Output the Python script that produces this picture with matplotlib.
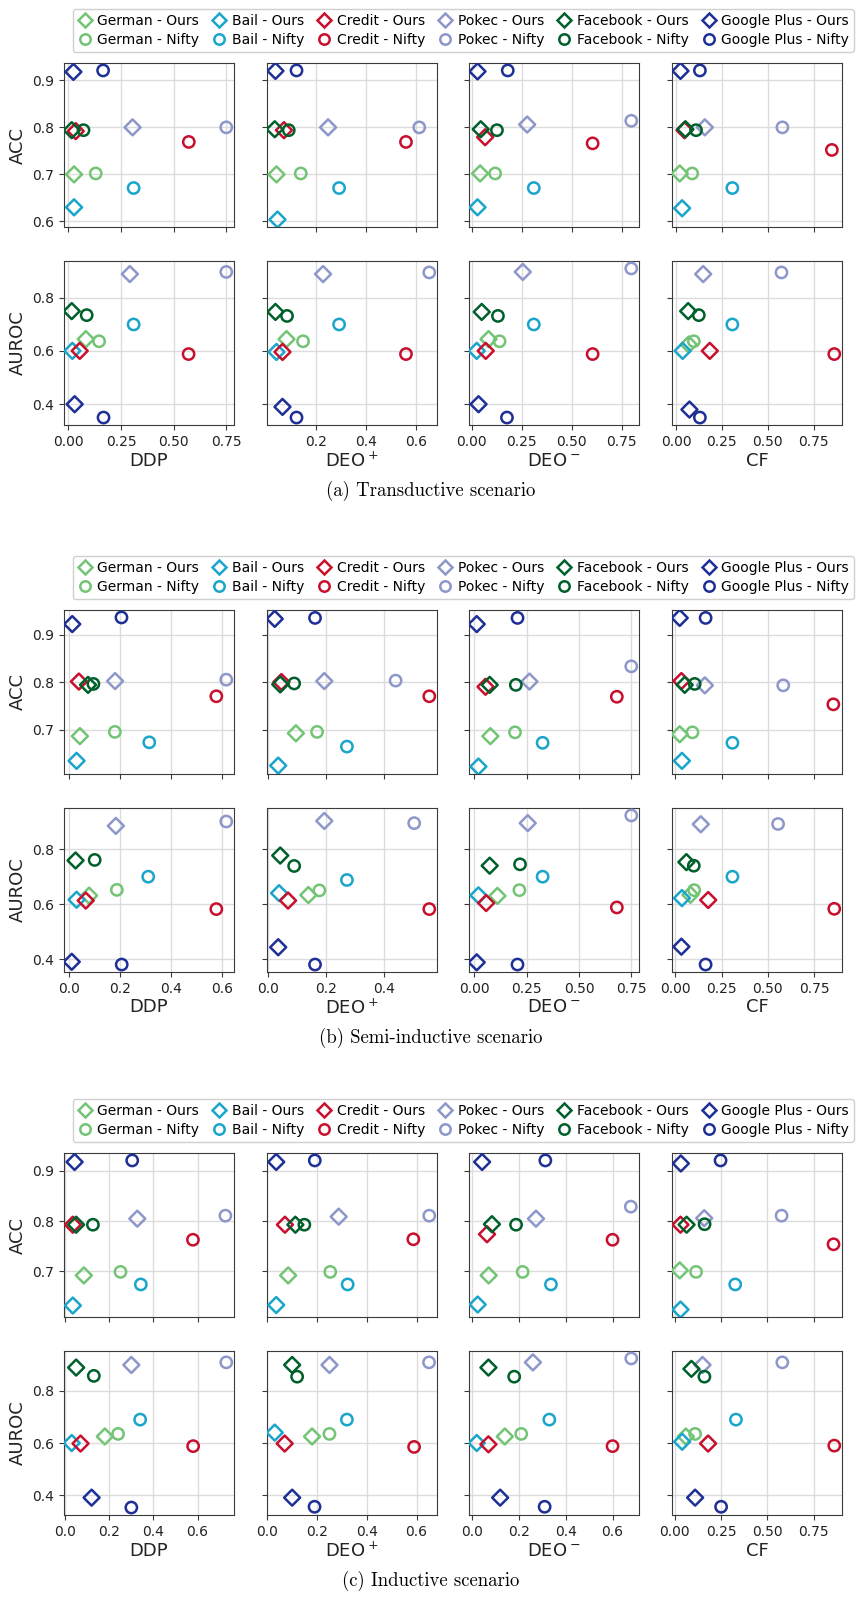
import matplotlib
matplotlib.use('Agg')
import matplotlib.pyplot as plt
from matplotlib.lines import Line2D


DATASETS = ['German', 'Bail', 'Credit', 'Pokec', 'Facebook', 'Google Plus']
COLORS = ['#74c476', '#1aa5cb', '#c8102e', '#8e97c9', '#00602b', '#1e2f96']
FAIRNESS = ['DDP', r'DEO$^+$', r'DEO$^-$', 'CF']
METRICS = ['ACC', 'AUROC']
CAPTIONS = ['(a) Transductive scenario', '(b) Semi-inductive scenario',
            '(c) Inductive scenario']

# One row per fairness metric (DDP, DEO+, DEO-, CF), one entry per dataset.
# --- transductive ---
TRANS_ACC_OURS_X = [[0.027, 0.027, 0.035, 0.305, 0.016, 0.024],
                    [0.043, 0.047, 0.073, 0.249, 0.036, 0.039],
                    [0.042, 0.029, 0.067, 0.277, 0.045, 0.029],
                    [0.020, 0.033, 0.046, 0.157, 0.051, 0.024]]
TRANS_ACC_OURS_Y = [[0.700, 0.630, 0.792, 0.800, 0.794, 0.918],
                    [0.700, 0.604, 0.794, 0.800, 0.796, 0.920],
                    [0.702, 0.630, 0.779, 0.806, 0.796, 0.919],
                    [0.702, 0.628, 0.794, 0.800, 0.796, 0.920]]
TRANS_ACC_NIFTY_X = [[0.130, 0.310, 0.572, 0.750, 0.072, 0.165],
                     [0.140, 0.293, 0.560, 0.613, 0.092, 0.123],
                     [0.117, 0.310, 0.604, 0.797, 0.126, 0.180],
                     [0.088, 0.307, 0.850, 0.580, 0.109, 0.130]]
TRANS_ACC_NIFTY_Y = [[0.702, 0.671, 0.769, 0.800, 0.794, 0.921],
                     [0.702, 0.671, 0.769, 0.800, 0.794, 0.921],
                     [0.702, 0.671, 0.766, 0.814, 0.794, 0.921],
                     [0.702, 0.671, 0.752, 0.800, 0.794, 0.921]]
TRANS_AUC_OURS_X = [[0.083, 0.019, 0.054, 0.292, 0.016, 0.030],
                    [0.083, 0.043, 0.067, 0.229, 0.039, 0.067],
                    [0.084, 0.025, 0.070, 0.255, 0.050, 0.034],
                    [0.069, 0.036, 0.184, 0.148, 0.066, 0.073]]
TRANS_AUC_OURS_Y = [[0.644, 0.600, 0.600, 0.888, 0.749, 0.400],
                    [0.644, 0.596, 0.596, 0.888, 0.746, 0.390],
                    [0.644, 0.600, 0.600, 0.896, 0.746, 0.400],
                    [0.624, 0.600, 0.600, 0.888, 0.749, 0.380]]
TRANS_AUC_NIFTY_X = [[0.146, 0.310, 0.571, 0.750, 0.087, 0.167],
                     [0.149, 0.293, 0.560, 0.653, 0.085, 0.123],
                     [0.139, 0.310, 0.604, 0.797, 0.131, 0.176],
                     [0.097, 0.307, 0.863, 0.575, 0.124, 0.130]]
TRANS_AUC_NIFTY_Y = [[0.636, 0.699, 0.588, 0.896, 0.734, 0.350],
                     [0.636, 0.699, 0.588, 0.894, 0.731, 0.350],
                     [0.636, 0.699, 0.588, 0.909, 0.731, 0.350],
                     [0.636, 0.699, 0.588, 0.894, 0.734, 0.350]]

# --- semi-inductive ---
SEMI_ACC_OURS_X = [[0.043, 0.030, 0.039, 0.181, 0.075, 0.013],
                   [0.096, 0.035, 0.046, 0.194, 0.042, 0.023],
                   [0.076, 0.019, 0.053, 0.263, 0.073, 0.011],
                   [0.024, 0.036, 0.033, 0.160, 0.051, 0.024]]
SEMI_ACC_OURS_Y = [[0.686, 0.634, 0.801, 0.802, 0.794, 0.922],
                   [0.692, 0.624, 0.800, 0.802, 0.795, 0.933],
                   [0.686, 0.622, 0.790, 0.801, 0.794, 0.922],
                   [0.690, 0.634, 0.802, 0.793, 0.794, 0.935]]
SEMI_ACC_NIFTY_X = [[0.180, 0.315, 0.578, 0.617, 0.096, 0.206],
                    [0.169, 0.272, 0.556, 0.440, 0.090, 0.162],
                    [0.194, 0.326, 0.681, 0.750, 0.198, 0.206],
                    [0.093, 0.309, 0.855, 0.584, 0.105, 0.164]]
SEMI_ACC_NIFTY_Y = [[0.695, 0.673, 0.770, 0.805, 0.796, 0.936],
                    [0.695, 0.664, 0.770, 0.803, 0.797, 0.935],
                    [0.694, 0.672, 0.769, 0.833, 0.794, 0.935],
                    [0.694, 0.672, 0.753, 0.793, 0.796, 0.935]]
SEMI_AUC_OURS_X = [[0.079, 0.030, 0.066, 0.184, 0.026, 0.011],
                   [0.139, 0.038, 0.069, 0.194, 0.042, 0.035],
                   [0.110, 0.019, 0.056, 0.255, 0.073, 0.011],
                   [0.082, 0.036, 0.178, 0.138, 0.060, 0.033]]
SEMI_AUC_OURS_Y = [[0.631, 0.616, 0.613, 0.885, 0.759, 0.390],
                   [0.633, 0.640, 0.613, 0.903, 0.777, 0.443],
                   [0.630, 0.632, 0.604, 0.895, 0.740, 0.388],
                   [0.634, 0.622, 0.615, 0.891, 0.753, 0.445]]
SEMI_AUC_NIFTY_X = [[0.188, 0.311, 0.578, 0.617, 0.101, 0.207],
                    [0.177, 0.272, 0.556, 0.504, 0.090, 0.162],
                    [0.215, 0.326, 0.681, 0.750, 0.218, 0.206],
                    [0.102, 0.309, 0.860, 0.556, 0.100, 0.164]]
SEMI_AUC_NIFTY_Y = [[0.652, 0.700, 0.582, 0.901, 0.761, 0.380],
                    [0.650, 0.688, 0.582, 0.895, 0.739, 0.380],
                    [0.651, 0.700, 0.588, 0.923, 0.745, 0.380],
                    [0.651, 0.700, 0.583, 0.892, 0.740, 0.380]]

# --- inductive ---
IND_ACC_OURS_X = [[0.085, 0.035, 0.035, 0.327, 0.050, 0.043],
                  [0.084, 0.036, 0.071, 0.287, 0.113, 0.036],
                  [0.071, 0.024, 0.064, 0.273, 0.085, 0.043],
                  [0.027, 0.031, 0.031, 0.159, 0.064, 0.033]]
IND_ACC_OURS_Y = [[0.692, 0.632, 0.793, 0.805, 0.793, 0.918],
                  [0.692, 0.633, 0.793, 0.809, 0.793, 0.918],
                  [0.692, 0.634, 0.774, 0.805, 0.794, 0.918],
                  [0.702, 0.624, 0.793, 0.806, 0.793, 0.915]]
IND_ACC_NIFTY_X = [[0.251, 0.343, 0.579, 0.726, 0.126, 0.304],
                   [0.253, 0.323, 0.587, 0.651, 0.149, 0.191],
                   [0.216, 0.337, 0.600, 0.678, 0.188, 0.313],
                   [0.115, 0.326, 0.856, 0.576, 0.161, 0.247]]
IND_ACC_NIFTY_Y = [[0.699, 0.674, 0.763, 0.811, 0.793, 0.921],
                   [0.699, 0.674, 0.764, 0.811, 0.793, 0.921],
                   [0.699, 0.674, 0.763, 0.829, 0.793, 0.921],
                   [0.699, 0.674, 0.754, 0.811, 0.794, 0.921]]
IND_AUC_OURS_X = [[0.180, 0.030, 0.070, 0.300, 0.050, 0.120],
                  [0.180, 0.030, 0.070, 0.250, 0.100, 0.100],
                  [0.140, 0.020, 0.070, 0.260, 0.070, 0.120],
                  [0.060, 0.040, 0.180, 0.150, 0.090, 0.110]]
IND_AUC_OURS_Y = [[0.625, 0.600, 0.598, 0.900, 0.890, 0.390],
                  [0.625, 0.640, 0.598, 0.900, 0.900, 0.390],
                  [0.625, 0.600, 0.595, 0.910, 0.890, 0.390],
                  [0.625, 0.605, 0.598, 0.900, 0.885, 0.390]]
IND_AUC_NIFTY_X = [[0.240, 0.340, 0.580, 0.730, 0.130, 0.300],
                   [0.250, 0.320, 0.590, 0.650, 0.120, 0.190],
                   [0.210, 0.330, 0.600, 0.680, 0.180, 0.310],
                   [0.110, 0.330, 0.860, 0.580, 0.160, 0.250]]
IND_AUC_NIFTY_Y = [[0.635, 0.690, 0.588, 0.910, 0.858, 0.352],
                   [0.635, 0.690, 0.585, 0.910, 0.855, 0.355],
                   [0.635, 0.690, 0.588, 0.925, 0.855, 0.355],
                   [0.635, 0.690, 0.590, 0.910, 0.855, 0.355]]

PANELS = [
    ((TRANS_ACC_OURS_X, TRANS_ACC_OURS_Y, TRANS_ACC_NIFTY_X, TRANS_ACC_NIFTY_Y),
     (TRANS_AUC_OURS_X, TRANS_AUC_OURS_Y, TRANS_AUC_NIFTY_X, TRANS_AUC_NIFTY_Y)),
    ((SEMI_ACC_OURS_X, SEMI_ACC_OURS_Y, SEMI_ACC_NIFTY_X, SEMI_ACC_NIFTY_Y),
     (SEMI_AUC_OURS_X, SEMI_AUC_OURS_Y, SEMI_AUC_NIFTY_X, SEMI_AUC_NIFTY_Y)),
    ((IND_ACC_OURS_X, IND_ACC_OURS_Y, IND_ACC_NIFTY_X, IND_ACC_NIFTY_Y),
     (IND_AUC_OURS_X, IND_AUC_OURS_Y, IND_AUC_NIFTY_X, IND_AUC_NIFTY_Y)),
]

W, H = 861, 1598
COL_LEFT = [64, 267, 469, 672]
AX_W, AX_H = 170, 164
PANEL_TOP = [63, 610, 1153]
ROW_GAP = 198
MARKER_SIZE = 66
EDGE_WIDTH = 1.8


def px_box(left, top, width, height):
    return [left / W, 1 - (top + height) / H, width / W, height / H]


plt.rcParams['font.family'] = 'DejaVu Sans'
fig = plt.figure(figsize=(W / 100, H / 100), dpi=100)

handles, labels = [], []
for name, color in zip(DATASETS, COLORS):
    for marker, method in (('D', 'Ours'), ('o', 'Nifty')):
        handles.append(Line2D([], [], linestyle='none', marker=marker,
                              markersize=7.5, markerfacecolor='none',
                              markeredgecolor=color, markeredgewidth=EDGE_WIDTH))
        labels.append(f'{name} - {method}')

for panel, top in enumerate(PANEL_TOP):
    rows = PANELS[panel]
    axes = [[None] * 4 for _ in range(2)]
    for r in range(2):
        for c in range(4):
            share_x = axes[0][c] if r == 1 else None
            share_y = axes[r][0] if c > 0 else None
            ax = fig.add_axes(px_box(COL_LEFT[c], top + r * ROW_GAP, AX_W, AX_H),
                              sharex=share_x, sharey=share_y)
            axes[r][c] = ax
            ours_x, ours_y, nifty_x, nifty_y = rows[r]
            for d, color in enumerate(COLORS):
                ax.scatter(ours_x[c][d], ours_y[c][d], marker='D', s=MARKER_SIZE,
                           facecolors='none', edgecolors=color,
                           linewidths=EDGE_WIDTH, zorder=3)
                ax.scatter(nifty_x[c][d], nifty_y[c][d], marker='o', s=MARKER_SIZE,
                           facecolors='none', edgecolors=color,
                           linewidths=EDGE_WIDTH, zorder=3)
            ax.grid(True, color='#dcdcdc', linewidth=1)
            ax.set_axisbelow(True)
            for spine in ax.spines.values():
                spine.set_color('#3a3a3a')
            ax.tick_params(labelsize=10, color='#3a3a3a', labelcolor='#222222')
            if c == 0:
                ax.set_ylabel(METRICS[r], fontsize=13, color='#222222')
            else:
                ax.tick_params(labelleft=False)
            if r == 0:
                ax.tick_params(labelbottom=False)
            else:
                ax.set_xlabel(FAIRNESS[c], fontsize=13, color='#222222',
                              labelpad=2)

    fig.legend(handles, labels, ncol=6, loc='upper right',
               bbox_to_anchor=(1.0, 1 - (top - 61) / H),
               fontsize=10, handlelength=1.0, handletextpad=0.4,
               columnspacing=0.95, borderpad=0.35, labelspacing=0.35,
               edgecolor='#d0d0d0', framealpha=1)

    fig.text(0.5, 1 - (top + ROW_GAP + AX_H + 66) / H, CAPTIONS[panel],
             ha='center', va='center', fontsize=13.5, family='cmr10')

fig.savefig('out.png', dpi=100)
